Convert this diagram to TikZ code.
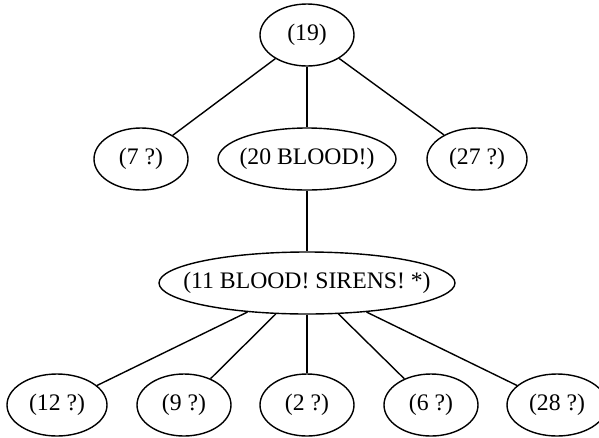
\documentclass[tikz,border=0pt]{standalone}
\usepackage{fontspec}
\setmainfont{Liberation Serif}
\usetikzlibrary{shapes.geometric}

\begin{document}
\begin{tikzpicture}[x=1pt, y=-1pt,
  state/.style={draw, ellipse, line width=1.4pt, inner xsep=-19pt, inner ysep=0pt,
    minimum width=94pt, minimum height=62pt, font=\fontsize{23.7}{24}\selectfont},
  wide/.style={state, minimum width=100pt},
  edge/.style={line width=1.4pt}]
  \useasboundingbox (0,0) rectangle (599,437);

  % Root
  \node[state] (n19) at (307,35) {(19)};

  % Second rank
  \node[state] (n7) at (141,159) {(7 ?)};
  \node[state, minimum width=178pt] (n20) at (307,159) {(20 BLOOD!)};
  \node[wide] (n27) at (477,159) {(27 ?)};

  % Third rank
  \node[state, minimum width=296pt] (n11) at (307,283) {(11 BLOOD! SIRENS! *)};

  % Leaves
  \node[wide] (n12) at (57,405) {(12 ?)};
  \node[state] (n9) at (184,405) {(9 ?)};
  \node[state] (n2) at (307,405) {(2 ?)};
  \node[state] (n6) at (431,405) {(6 ?)};
  \node[wide] (n28) at (557,405) {(28 ?)};

  % Edges
  \draw[edge] (n19) -- (n7);
  \draw[edge] (n19) -- (n20);
  \draw[edge] (n19) -- (n27);
  \draw[edge] (n20) -- (n11);
  \draw[edge] (n11) -- (n12);
  \draw[edge] (n11) -- (n9);
  \draw[edge] (n11) -- (n2);
  \draw[edge] (n11) -- (n6);
  \draw[edge] (n11) -- (n28);
\end{tikzpicture}
\end{document}
